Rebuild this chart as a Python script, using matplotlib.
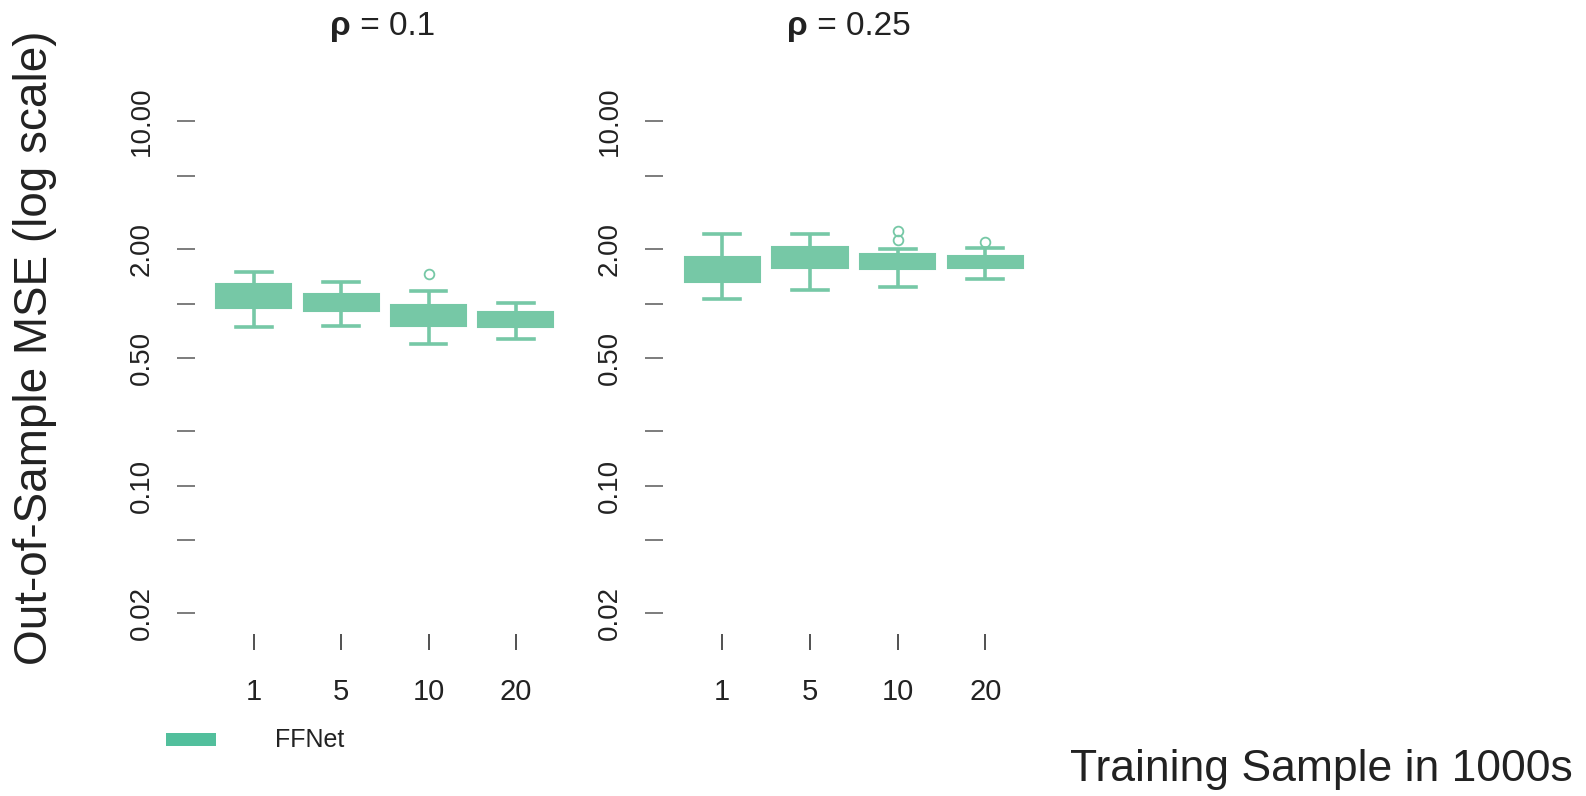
import matplotlib
matplotlib.use("Agg")
import matplotlib.pyplot as plt
import matplotlib.patches as mpatches

plt.rcParams['font.family'] = ['Liberation Sans', 'DejaVu Sans']

# ---- data ----
sample_sizes = ["1", "5", "10", "20"]
panel_symbol = "\u03c1"
panel_values = [" = 0.1", " = 0.25"]
ytick_values = [10, 5, 2, 1, 0.5, 0.2, 0.1, 0.05, 0.02]
ytick_labels = ["10.00", "", "2.00", "", "0.50", "", "0.10", "", "0.02"]

# rho = 0.1 : whisker low, Q1, median, Q3, whisker high, outliers
rho01_whislo = [0.745, 0.757, 0.60, 0.637]
rho01_q1     = [0.94, 0.91, 0.757, 0.74]
rho01_med    = [1.10, 1.02, 0.86, 0.82]
rho01_q3     = [1.28, 1.13, 0.98, 0.90]
rho01_whishi = [1.48, 1.31, 1.17, 1.01]
rho01_fliers = [[], [], [1.45], []]

# rho = 0.25
rho025_whislo = [1.06, 1.18, 1.23, 1.37]
rho025_q1     = [1.32, 1.57, 1.54, 1.56]
rho025_med    = [1.55, 1.80, 1.70, 1.70]
rho025_q3     = [1.81, 2.05, 1.87, 1.83]
rho025_whishi = [2.41, 2.41, 2.00, 2.03]
rho025_fliers = [[], [], [2.22, 2.51], [2.19]]

legend_label = "FFNet"
xlabel = "Training Sample in 1000s"
ylabel = "Out-of-Sample MSE (log scale)"

panels = [
    (rho01_whislo, rho01_q1, rho01_med, rho01_q3, rho01_whishi, rho01_fliers),
    (rho025_whislo, rho025_q1, rho025_med, rho025_q3, rho025_whishi, rho025_fliers),
]

# ---- style ----
W, H = 1586, 796
BOX_COLOR = "#76C8A6"
LEG_COLOR = "#52BF9C"
TEXT_COLOR = "#222222"

fig = plt.figure(figsize=(W / 100, H / 100), dpi=100)

def px_axes(left, top, width, height):
    return fig.add_axes([left / W, 1 - (top + height) / H, width / W, height / H])

# vertical mapping
top_px, bottom_px = 60.0, 620.0
ref_px, ppd = 121.4, 182.1
ylo = 10 ** (1 - (bottom_px - ref_px) / ppd)
yhi = 10 ** (1 + (ref_px - top_px) / ppd)

panel_lefts = [210.2, 678.4]
panel_widths = [349.3, 350.7]
title_lefts = [330, 787]

for i, (lo, q1, med, q3, hi, fl) in enumerate(panels):
    ax = px_axes(panel_lefts[i], top_px, panel_widths[i], bottom_px - top_px)
    stats = []
    for j in range(len(sample_sizes)):
        stats.append(dict(whislo=lo[j], q1=q1[j], med=med[j], q3=q3[j],
                          whishi=hi[j], fliers=fl[j], label=sample_sizes[j]))
    positions = list(range(1, len(sample_sizes) + 1))
    ax.bxp(stats, positions=positions, widths=0.86, capwidths=0.41,
           patch_artist=True, showfliers=True,
           boxprops=dict(facecolor=BOX_COLOR, edgecolor=BOX_COLOR, linewidth=1.5),
           medianprops=dict(color=BOX_COLOR, linewidth=1.5),
           whiskerprops=dict(color=BOX_COLOR, linewidth=2.6, solid_capstyle='butt'),
           capprops=dict(color=BOX_COLOR, linewidth=2.6),
           flierprops=dict(marker='o', markersize=7, markerfacecolor='none',
                           markeredgecolor=BOX_COLOR, markeredgewidth=1.3))
    ax.set_yscale('log')
    ax.set_ylim(ylo, yhi)
    ax.set_xlim(0.5, len(sample_sizes) + 0.5)
    ax.set_facecolor('none')
    for s in ['top', 'right']:
        ax.spines[s].set_visible(False)
    ax.spines['left'].set_position(('outward', 10.8))
    ax.spines['bottom'].set_position(('outward', 10.1))
    ax.spines['left'].set_color('none')
    ax.spines['bottom'].set_color('none')
    ax.minorticks_off()
    ax.set_yticks(ytick_values)
    ax.set_yticklabels(ytick_labels)
    ax.set_xticks(positions)
    ax.set_xticklabels(sample_sizes)
    ax.tick_params(axis='y', length=13.3, width=1.2, color='#666666', pad=16,
                   labelsize=20, labelcolor=TEXT_COLOR, labelrotation=90)
    for lab in ax.get_yticklabels():
        lab.set_va('center')
    ax.tick_params(axis='x', length=11.7, width=1.2, color='#333333', pad=20,
                   labelsize=21, labelcolor=TEXT_COLOR)
    t1 = fig.text(title_lefts[i] / W, 1 - 35 / H, panel_symbol, ha='left',
                  va='baseline', fontsize=24, fontweight='bold', color=TEXT_COLOR)
    ax.annotate(panel_values[i], xy=(1, 0), xycoords=t1, xytext=(0, 0),
                textcoords='offset points', ha='left', va='bottom',
                fontsize=24, color=TEXT_COLOR, annotation_clip=False)

# axis labels
fig.text(35.5 / W, 1 - 348 / H, ylabel, rotation=90, ha='center', va='center',
         fontsize=33, color=TEXT_COLOR)
fig.text(1573 / W, 1 - 769 / H, xlabel, ha='right', va='center',
         fontsize=32, color=TEXT_COLOR)

# legend
fig.patches.append(mpatches.Rectangle((166 / W, 1 - 746 / H), 50 / W, 13 / H,
                                      transform=fig.transFigure,
                                      facecolor=LEG_COLOR, edgecolor='none'))
fig.text(275 / W, 1 - 740 / H, legend_label, ha='left', va='center',
         fontsize=18, color=TEXT_COLOR)

fig.savefig("out.png", dpi=100)
